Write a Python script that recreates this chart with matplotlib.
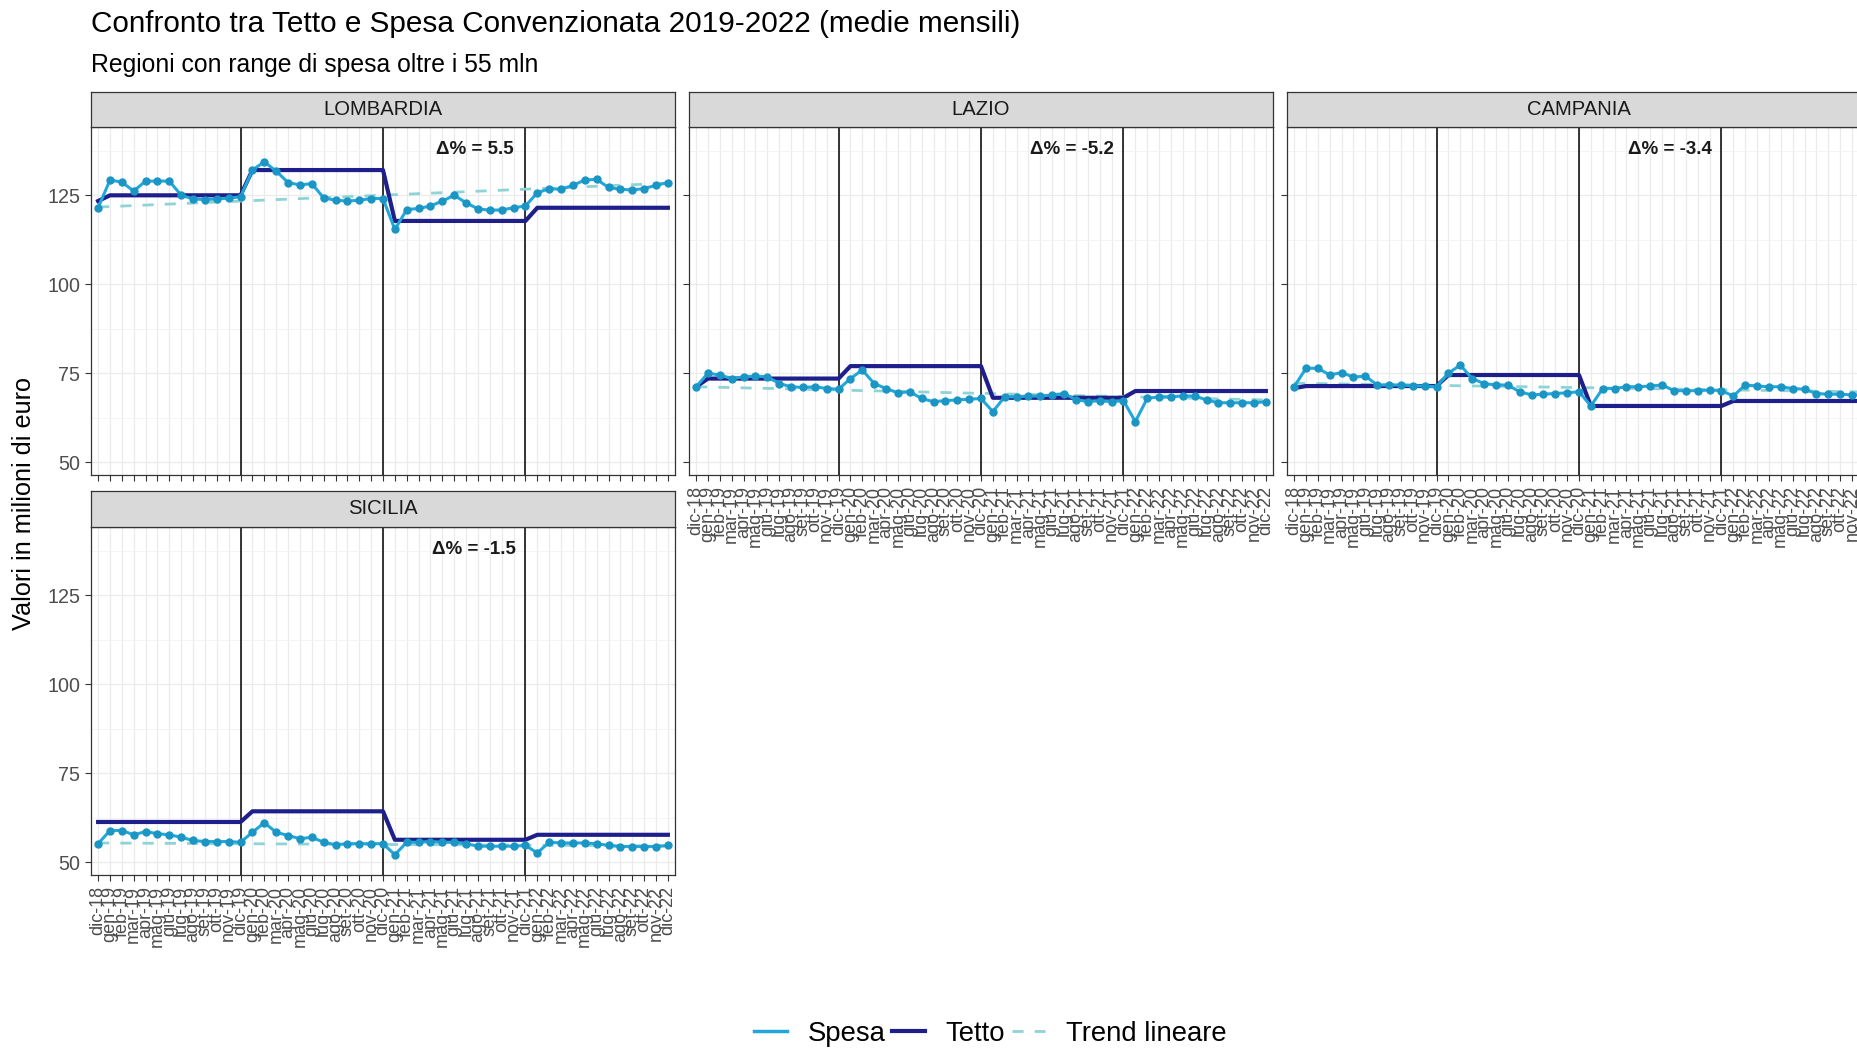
import numpy as np
import matplotlib.pyplot as plt
from matplotlib.lines import Line2D

plt.rcParams['font.family'] = ['Liberation Sans', 'DejaVu Sans']

# asse dei mesi: da dic-18 a dic-22
mesi = ['gen', 'feb', 'mar', 'apr', 'mag', 'giu', 'lug', 'ago', 'set', 'ott', 'nov', 'dic']
etichette = ['dic-18'] + [m + '-' + a for a in ['19', '20', '21', '22'] for m in mesi]
x = np.arange(len(etichette))

# spesa convenzionata mensile (milioni di euro)
spesa_lombardia = [121.5, 129.3, 128.7, 126.2, 129.0, 129.0, 129.0, 125.0, 124.0, 123.8, 124.0, 124.2, 124.6,
                   132.1, 134.4, 131.8, 128.6, 127.9, 128.3, 124.3, 123.6, 123.4, 123.6, 124.1, 124.1,
                   115.4, 121.0, 121.3, 122.0, 123.4, 125.0, 122.9, 121.2, 120.8, 120.9, 121.5, 122.0,
                   125.7, 126.9, 126.7, 127.8, 129.3, 129.5, 127.2, 126.7, 126.5, 126.9, 127.8, 128.6]
spesa_lazio = [71.2, 75.0, 74.5, 73.5, 74.0, 74.2, 74.0, 72.1, 71.2, 71.0, 71.2, 70.7, 70.5,
               73.5, 75.9, 72.1, 70.7, 69.5, 69.8, 67.9, 67.0, 67.3, 67.5, 67.7, 67.9,
               64.2, 68.4, 68.4, 68.6, 68.6, 68.9, 69.3, 67.6, 67.0, 67.3, 67.0, 67.3,
               61.4, 67.9, 68.4, 68.4, 68.6, 68.6, 67.5, 66.7, 66.7, 66.7, 66.7, 67.0]
spesa_campania = [71.2, 76.4, 76.4, 74.5, 75.2, 73.9, 74.2, 71.7, 71.7, 71.7, 71.5, 71.4, 71.2,
                  75.0, 77.3, 73.5, 72.1, 71.7, 71.7, 69.8, 68.9, 69.1, 69.3, 69.5, 69.8,
                  65.8, 70.7, 70.7, 71.2, 71.2, 71.4, 71.7, 70.1, 70.1, 70.1, 70.3, 70.1,
                  68.6, 71.7, 71.4, 71.2, 71.2, 70.7, 70.5, 69.3, 69.1, 69.1, 68.9, 68.9]
spesa_sicilia = [55.2, 58.9, 58.9, 57.7, 58.6, 58.0, 57.7, 57.0, 56.1, 55.8, 55.8, 55.8, 55.6,
                 58.4, 61.1, 58.4, 57.5, 56.6, 57.0, 55.6, 54.9, 55.2, 55.2, 55.2, 55.2,
                 52.1, 55.6, 55.6, 55.8, 55.6, 55.6, 55.2, 54.5, 54.5, 54.5, 54.5, 54.7,
                 52.6, 55.6, 55.4, 55.4, 55.4, 55.2, 54.7, 54.4, 54.4, 54.4, 54.4, 54.7]

# tetto: valore di dic-18 e poi un valore per ogni anno 2019-2022
tetto_dic18 = {'LOMBARDIA': 123.4, 'LAZIO': 71.2, 'CAMPANIA': 70.8, 'SICILIA': 61.3}
tetto_lombardia = [125.0, 132.1, 117.8, 121.5]
tetto_lazio = [73.5, 77.0, 68.1, 70.0]
tetto_campania = [71.4, 74.5, 65.8, 67.2]
tetto_sicilia = [61.3, 64.3, 56.3, 57.7]

# trend lineare: valore iniziale e variazione percentuale sul periodo
trend_inizio = {'LOMBARDIA': 121.7, 'LAZIO': 71.2, 'CAMPANIA': 72.2, 'SICILIA': 55.4}
delta_pct = {'LOMBARDIA': 5.5, 'LAZIO': -5.2, 'CAMPANIA': -3.4, 'SICILIA': -1.5}

spese = {'LOMBARDIA': spesa_lombardia, 'LAZIO': spesa_lazio,
         'CAMPANIA': spesa_campania, 'SICILIA': spesa_sicilia}
tetti = {'LOMBARDIA': tetto_lombardia, 'LAZIO': tetto_lazio,
         'CAMPANIA': tetto_campania, 'SICILIA': tetto_sicilia}

col_spesa = '#22a7da'
col_punti = '#1b95c4'
col_tetto = '#1f1f8c'
col_trend = '#8fd3d6'

W, H = 1858, 1049
fig = plt.figure(figsize=(W / 100, H / 100), dpi=100)


def box(l, t, r, b):
    return [l / W, 1 - b / H, (r - l) / W, (b - t) / H]


# (sinistra, inizio strip, inizio pannello, fine pannello, etichette x, etichette y)
pannelli = {
    'LOMBARDIA': (91, 92, 127, 475, False, True),
    'LAZIO': (689, 92, 127, 475, True, False),
    'CAMPANIA': (1287, 92, 127, 475, True, False),
    'SICILIA': (91, 491, 527, 875, True, True),
}
larg = 584

for reg, (l, st, pt, pb, lab_x, lab_y) in pannelli.items():
    ax = fig.add_axes(box(l, pt, l + larg, pb))
    ax.set_xlim(-0.6, 48.6)
    ax.set_ylim(46.4, 144.2)
    ax.set_xticks(x)
    ax.set_yticks([50, 75, 100, 125])
    ax.set_yticks([62.5, 87.5, 112.5, 137.5], minor=True)
    ax.grid(which='major', color='#EBEBEB', lw=0.9)
    ax.grid(which='minor', axis='y', color='#F2F2F2', lw=0.6)
    ax.set_axisbelow(True)
    ax.tick_params(which='minor', length=0)
    ax.tick_params(which='major', length=4.3, width=0.8, color='#333333',
                   labelsize=14.2, labelcolor='#4D4D4D', pad=3.5)
    ax.tick_params(axis='x', labelsize=13)
    for s in ax.spines.values():
        s.set_color('#333333')
        s.set_linewidth(0.9)

    if lab_x:
        ax.set_xticklabels(etichette, rotation=90)
    else:
        ax.tick_params(axis='x', labelbottom=False)
    if not lab_y:
        ax.tick_params(axis='y', labelleft=False)

    for xv in [12, 24, 36]:
        ax.axvline(xv, color='black', lw=1.1, zorder=2)

    t0 = trend_inizio[reg]
    t1 = t0 * (1 + delta_pct[reg] / 100)
    ax.plot([x[0], x[-1]], [t0, t1], color=col_trend, lw=2, ls=(0, (4, 4)), zorder=3)

    tetto = np.r_[tetto_dic18[reg], np.repeat(tetti[reg], 12)]
    ax.plot(x, tetto, color=col_tetto, lw=3, zorder=4)
    ax.plot(x, spese[reg], color=col_spesa, lw=2.2, marker='o', ms=5,
            mfc=col_punti, mec=col_punti, zorder=5)

    ax.text(31.7, 138, f'Δ% = {delta_pct[reg]}', ha='center', va='center',
            fontsize=13.5, fontweight='bold', color='#1a1a1a', zorder=6)

    # strip con il nome della regione
    sax = fig.add_axes(box(l, st, l + larg, pt))
    sax.set_facecolor('#D9D9D9')
    sax.set_xticks([])
    sax.set_yticks([])
    for s in sax.spines.values():
        s.set_color('#333333')
        s.set_linewidth(0.9)
    sax.text(0.5, 0.5, reg, ha='center', va='center', fontsize=14.6,
             color='#1A1A1A', transform=sax.transAxes)

fig.text(91 / W, 1 - 24 / H, 'Confronto tra Tetto e Spesa Convenzionata 2019-2022 (medie mensili)',
         fontsize=21.4, ha='left', va='center')
fig.text(91 / W, 1 - 65 / H, 'Regioni con range di spesa oltre i 55 mln',
         fontsize=17.8, ha='left', va='center')
fig.text(24 / W, 1 - 504 / H, 'Valori in milioni di euro', rotation=90,
         fontsize=18.2, ha='center', va='center')

handles = [Line2D([], [], color=col_spesa, lw=2.5),
           Line2D([], [], color=col_tetto, lw=3),
           Line2D([], [], color=col_trend, lw=2, ls=(0, (4, 4)))]
fig.legend(handles, ['Spesa', 'Tetto', 'Trend lineare'], loc='center',
           bbox_to_anchor=(990 / W, 1 - 1034 / H), ncol=3, frameon=False,
           fontsize=19.8, handlelength=1.2, handletextpad=0.75, columnspacing=0.25)

fig.savefig('out.png', dpi=100)
